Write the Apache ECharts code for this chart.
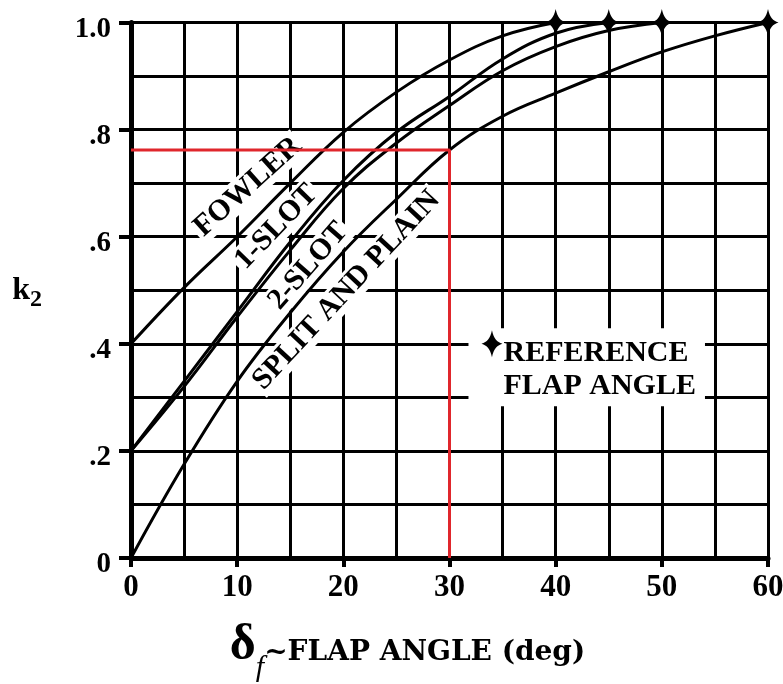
<!DOCTYPE html>
<html>
<head>
<meta charset="utf-8">
<script src="https://cdn.jsdelivr.net/npm/echarts@6/dist/echarts.min.js"></script>
<style>
  html, body { margin: 0; padding: 0; background: #fff; }
  #chart { width: 783px; height: 684px; }
</style>
</head>
<body>
<div id="chart"></div>
<script>
// Flap angle correction factor k2 against flap deflection, one curve per flap type
const flapAngle = [0, 5, 10, 15, 20, 25, 30, 35, 40, 45, 50, 55, 60];
const fowlerK2 = [0.40, 0.505, 0.60, 0.70, 0.795, 0.87, 0.93, 0.975, 1.0];
const oneSlotK2 = [0.20, 0.33, 0.46, 0.59, 0.705, 0.795, 0.862, 0.932, 0.98, 1.0];
const twoSlotK2 = [0.20, 0.32, 0.45, 0.575, 0.69, 0.775, 0.845, 0.91, 0.955, 0.985, 1.0];
const splitPlainK2 = [0, 0.175, 0.33, 0.458, 0.572, 0.67, 0.762, 0.825, 0.868, 0.908, 0.945, 0.975, 1.0];
const curveNames = ['FOWLER', '1-SLOT', '2-SLOT', 'SPLIT AND PLAIN'];

const xTickLabels = ['0', '10', '20', '30', '40', '50', '60'];
const yTickLabels = ['0', '.2', '.4', '.6', '.8', '1.0'];

// Worked reading: 30 deg split flap gives k2 = 0.762
const readAngle = 30;
const readK2 = 0.762;

// Legend mark for the reference flap angle
const referenceMark = [34, 0.4];
const referenceText = 'REFERENCE\nFLAP ANGLE';

const toPoints = ys => ys.map((y, i) => [flapAngle[i], y]);
const curves = [fowlerK2, oneSlotK2, twoSlotK2, splitPlainK2];
const lastPoint = ys => [flapAngle[ys.length - 1], ys[ys.length - 1]];

const INK = '#000';
const SERIF = '"DejaVu Serif", serif';
const TIMES = '"Liberation Serif", serif';
const sparkle = 'path://M0,-14 C2,-5 5,-2 11,0 C5,2 2,5 0,14 C-2,5 -5,2 -11,0 C-5,-2 -2,-5 0,-14 Z';

const chart = echarts.init(document.getElementById('chart'), null, { renderer: 'canvas' });

const curveSeries = curves.map((ys, i) => ({
  name: curveNames[i],
  type: 'line',
  data: toPoints(ys),
  smooth: 0.4,
  showSymbol: false,
  symbol: 'none',
  lineStyle: { color: INK, width: 3 },
  z: 4,
  silent: true
}));

// Shared style for text-only markers (no visible symbol)
const textOnly = {
  type: 'scatter',
  symbol: 'circle',
  symbolSize: 1,
  itemStyle: { color: 'transparent', opacity: 1 },
  z: 3,
  silent: true
};

const labelText = {
  show: true,
  fontFamily: TIMES,
  fontWeight: 'bold',
  color: INK,
  opacity: 1,
  textBorderWidth: 0,
  backgroundColor: '#fff'
};

// Curve names, placed beside each curve with a white backing that breaks the grid
const labelPlacement = [
  { value: [11.0, 0.693], rotate: 42 },
  { value: [13.7, 0.618], rotate: 46 },
  { value: [16.7, 0.545], rotate: 49 },
  { value: [20.3, 0.500], rotate: 47 }
];

const option = {
  backgroundColor: '#fff',
  animation: false,
  grid: {
    left: 131, right: 15, top: 22.5, bottom: 126,
    containLabel: false,
    outerBoundsMode: 'none'
  },
  xAxis: {
    type: 'value',
    min: 0, max: 60, interval: 10,
    name: '{d|δ}{f|f}{t|~FLAP ANGLE (deg)}',
    nameLocation: 'middle',
    nameGap: 62,
    nameTextStyle: {
      padding: [0, 84, 0, 0],
      rich: {
        d: { fontFamily: TIMES, fontWeight: 'bold', fontSize: 50, lineHeight: 52, color: INK },
        f: { fontFamily: TIMES, fontStyle: 'italic', fontSize: 30, lineHeight: 28, color: INK, padding: [44, 0, 0, 0] },
        t: { fontFamily: SERIF, fontWeight: 'bold', fontSize: 28, color: INK, padding: [14, 0, 0, 0] }
      }
    },
    axisLine: { show: true, onZero: false, lineStyle: { color: INK, width: 5 } },
    axisTick: { show: true, length: 9, lineStyle: { color: INK, width: 4 } },
    minorTick: { show: false, splitNumber: 2 },
    axisLabel: {
      formatter: v => xTickLabels[Math.round(v / 10)],
      fontFamily: TIMES, fontWeight: 'bold', fontSize: 31, color: INK, margin: 14
    },
    splitLine: { show: true, lineStyle: { color: INK, width: 3 } },
    minorSplitLine: { show: true, lineStyle: { color: INK, width: 3 } }
  },
  yAxis: {
    type: 'value',
    min: 0, max: 1, interval: 0.2,
    name: '{k|k}{s|2}',
    nameLocation: 'middle',
    nameRotate: 0,
    nameGap: 89,
    nameTextStyle: {
      rich: {
        k: { fontFamily: TIMES, fontWeight: 'bold', fontSize: 32, color: INK },
        s: { fontFamily: TIMES, fontWeight: 'bold', fontSize: 24, color: INK, padding: [20, 0, 0, 0] }
      }
    },
    axisLine: { show: true, onZero: false, lineStyle: { color: INK, width: 5 } },
    axisTick: { show: true, length: 12, lineStyle: { color: INK, width: 4 } },
    minorTick: { show: false, splitNumber: 2 },
    axisLabel: {
      formatter: v => '{v|' + yTickLabels[Math.round(v / 0.2)] + '}',
      margin: 20,
      rich: {
        v: { fontFamily: TIMES, fontWeight: 'bold', fontSize: 29, color: INK, padding: [14, 0, 0, 0] }
      }
    },
    splitLine: { show: true, lineStyle: { color: INK, width: 3 } },
    minorSplitLine: { show: true, lineStyle: { color: INK, width: 3 } }
  },
  series: [
    ...curveSeries,
    {
      ...textOnly,
      name: 'curve names',
      data: labelPlacement.map((p, i) => ({
        value: p.value,
        label: {
          ...labelText,
          position: 'inside',
          formatter: curveNames[i],
          rotate: p.rotate,
          fontSize: 30,
          padding: [0, 3]
        }
      }))
    },
    {
      ...textOnly,
      name: 'reference caption',
      data: [{
        value: referenceMark,
        label: {
          ...labelText,
          position: [-23, -15],
          align: 'left',
          verticalAlign: 'top',
          formatter: referenceText,
          fontSize: 30,
          lineHeight: 33,
          padding: [8, 9, 4, 35]
        }
      }]
    },
    {
      name: 'reference flap angle',
      type: 'scatter',
      symbol: sparkle,
      symbolSize: [21, 27],
      itemStyle: { color: INK, opacity: 1 },
      z: 6,
      silent: true,
      data: [referenceMark, ...curves.map(lastPoint)]
    },
    {
      name: 'reading',
      type: 'line',
      data: [[0, readK2], [readAngle, readK2], [readAngle, 0]],
      showSymbol: false,
      symbol: 'none',
      lineStyle: { color: '#e0262c', width: 3 },
      z: 5,
      silent: true
    }
  ]
};

chart.setOption(option);
</script>
</body>
</html>
